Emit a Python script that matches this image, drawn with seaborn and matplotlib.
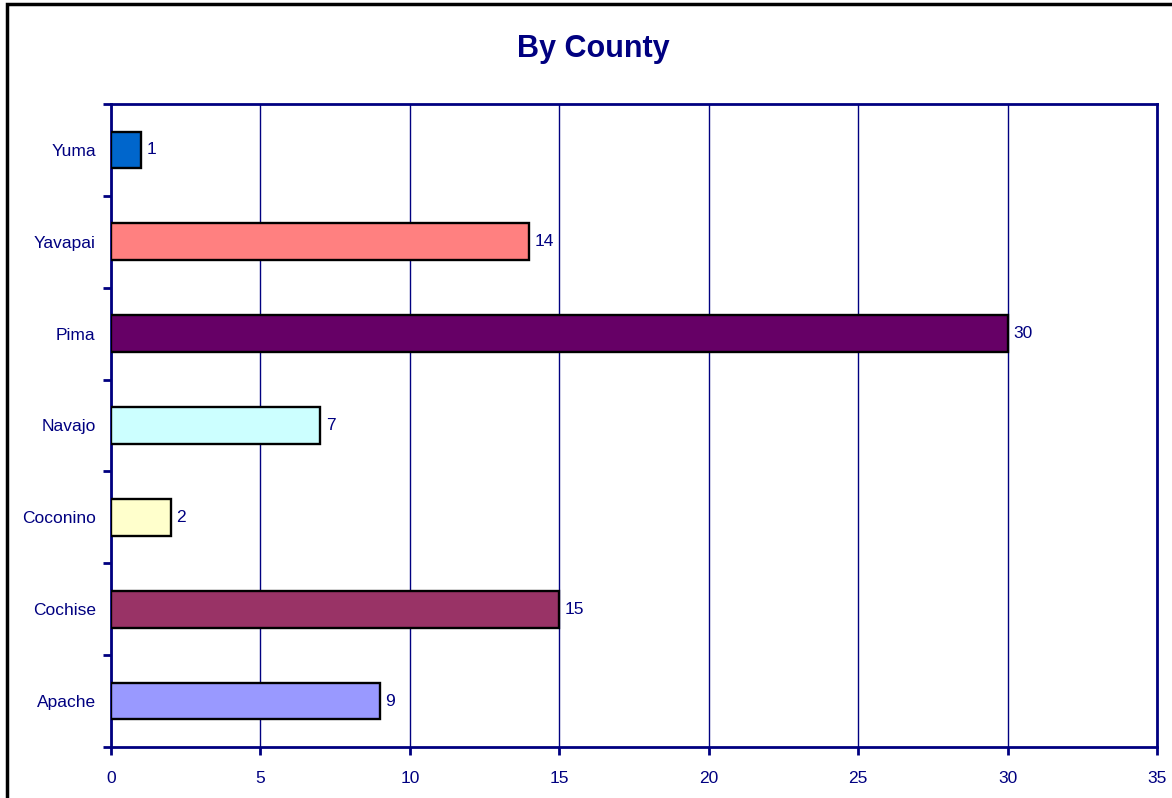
import numpy as np
import matplotlib
matplotlib.use("Agg")
import matplotlib.pyplot as plt
import seaborn as sns
import pandas as pd
from matplotlib.patches import Rectangle

counties = ["Yuma", "Yavapai", "Pima", "Navajo", "Coconino", "Cochise", "Apache"]
counts = [1, 14, 30, 7, 2, 15, 9]
colors = ["#0066CC", "#FF8080", "#660066", "#CCFFFF", "#FFFFCC", "#993366", "#9999FF"]
x_ticks = [0, 5, 10, 15, 20, 25, 30, 35]

NAVY = "#000080"

sns.set_theme(style="white")
plt.rcParams["font.family"] = ["Liberation Sans", "DejaVu Sans"]

df = pd.DataFrame({"county": counties, "count": counts})

fig = plt.figure(figsize=(11.72, 7.98), dpi=100)
fig.patch.set_facecolor("white")
ax = fig.add_axes([111 / 1172, 1 - 747 / 798, (1157 - 111) / 1172, (747 - 104) / 798])

sns.barplot(data=df, y="county", x="count", hue="county", order=counties,
            palette=dict(zip(counties, colors)), legend=False, width=0.4,
            edgecolor="black", linewidth=1.7, saturation=1, ax=ax, zorder=3)

for c in ax.containers:
    ax.bar_label(c, padding=4, color=NAVY, fontsize=12.5)

ax.set_xlim(0, 35)
ax.set_ylim(6.5, -0.5)
ax.set_xticks(x_ticks)
ax.set_xticklabels([str(v) for v in x_ticks], color=NAVY, fontsize=12.5)
ax.set_yticks(range(len(counties)))
ax.set_yticklabels(counties, color=NAVY, fontsize=12.5)
ax.set_yticks(np.arange(-0.5, len(counties), 1), minor=True)
ax.tick_params(axis="y", which="major", length=0, pad=11)
ax.tick_params(axis="y", which="minor", length=6, width=2, color=NAVY, direction="out", left=True)
ax.tick_params(axis="x", which="major", length=6, width=2, color=NAVY, direction="out",
               bottom=True, pad=11)

ax.grid(axis="x", color=NAVY, linewidth=1, zorder=0)
ax.set_axisbelow(True)
for spine in ax.spines.values():
    spine.set_visible(True)
    spine.set_color(NAVY)
    spine.set_linewidth(2)

ax.set_xlabel("")
ax.set_ylabel("")

fig.text(593 / 1172, 1 - 49 / 798, "By County", ha="center", va="center",
         fontsize=22, fontweight="bold", color=NAVY)

fig.patches.append(Rectangle((7 / 1172, -0.05), 1.1, 1 - 4 / 798 + 0.05,
                             transform=fig.transFigure, fill=False,
                             edgecolor="black", linewidth=2.5, clip_on=False))

fig.savefig("out.png", dpi=100)
